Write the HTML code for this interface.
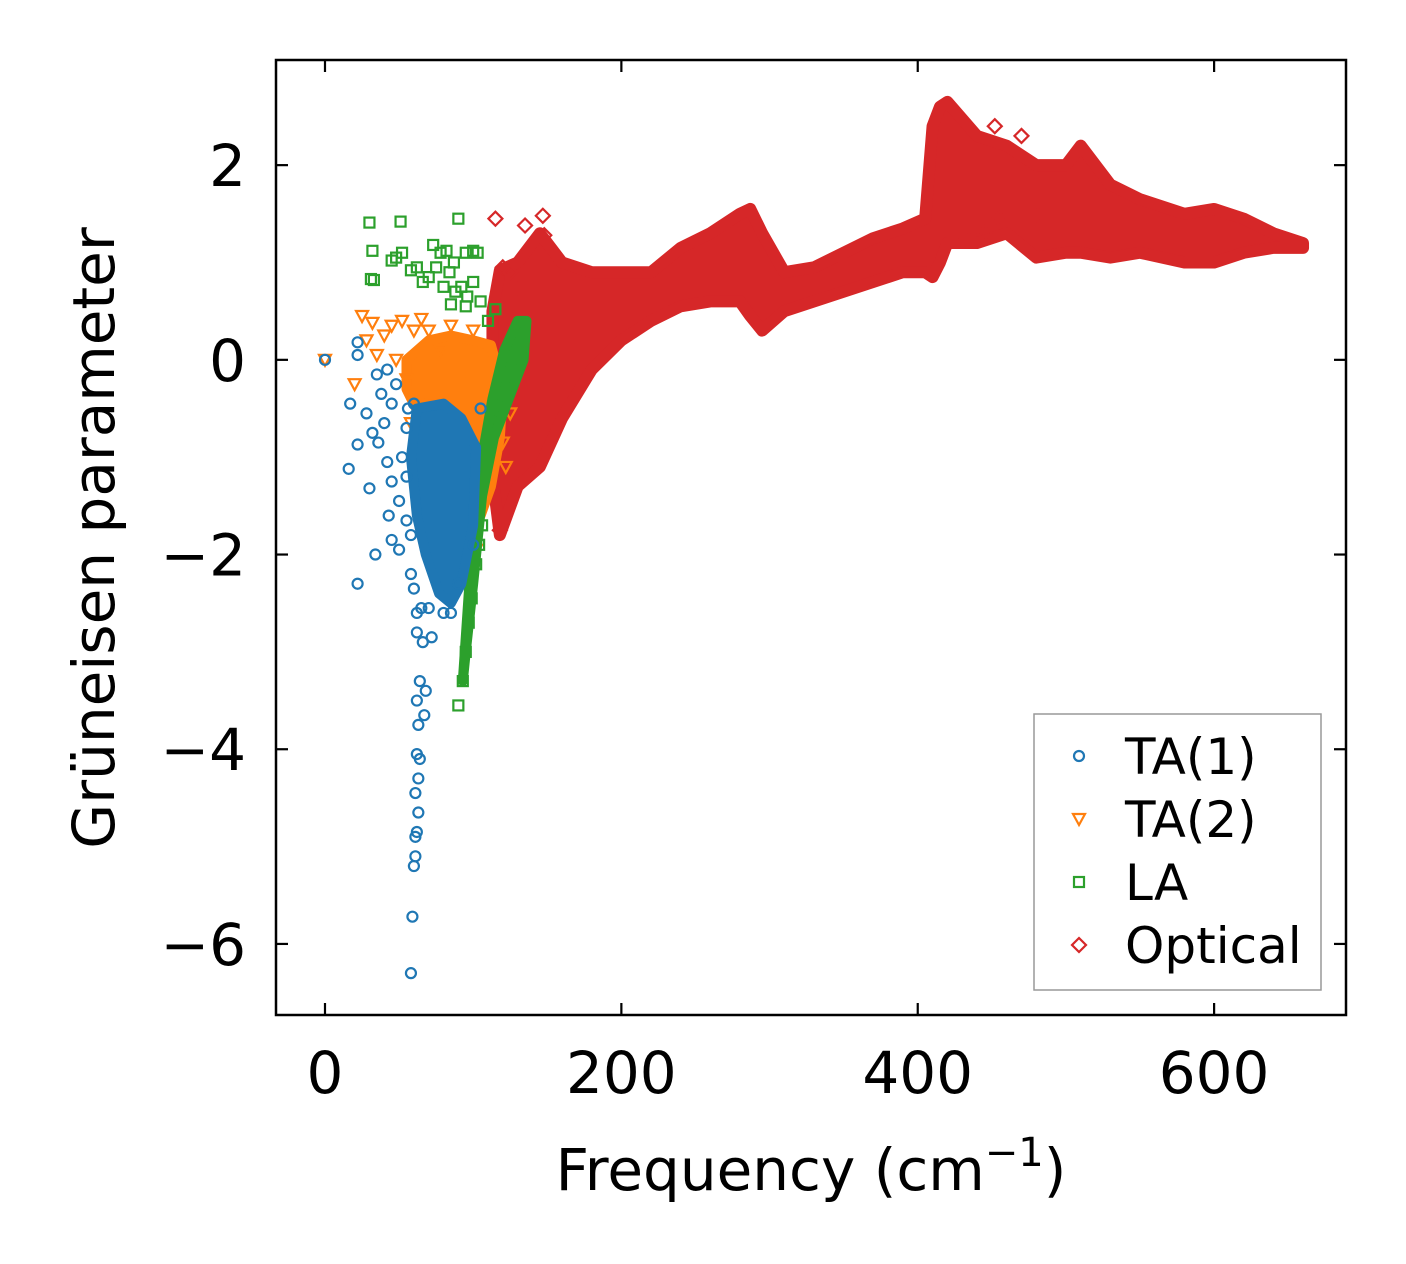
<!DOCTYPE html>
<html><head><meta charset="utf-8"><style>
html,body{margin:0;padding:0;background:#fff;}
svg{display:block;font-family:"DejaVu Sans","Liberation Sans",sans-serif;}
</style></head><body>
<svg id="chart" width="1406" height="1264" viewBox="0 0 1406 1264"></svg>
<script>
// ---- data ----
const xTicks=[0,200,400,600];
const yTicks=[2,0,-2,-4,-6];
const yTickLabels=["2","0","\u22122","\u22124","\u22126"];
const seriesNames=["TA(1)","TA(2)","LA","Optical"];
const seriesColors=["#1f77b4","#ff7f0e","#2ca02c","#d62728"];
// optical band: frequency, upper gamma, lower gamma
const optFreq=[113,118,130,145,160,180,200,220,240,260,280,287,295,310,330,350,370,390,405,410,415,420,440,460,480,500,510,530,550,580,600,620,640,660];
const optUpper=[0.5,0.92,1.0,1.3,1.0,0.9,0.9,0.9,1.15,1.3,1.5,1.55,1.3,0.9,0.95,1.1,1.25,1.35,1.45,2.4,2.6,2.65,2.3,2.2,2.0,2.0,2.2,1.8,1.65,1.5,1.55,1.45,1.3,1.2];
const optLower=[-1.2,-1.8,-1.3,-1.1,-0.6,-0.1,0.2,0.4,0.55,0.6,0.6,0.45,0.3,0.5,0.6,0.7,0.8,0.9,0.9,0.85,1.0,1.2,1.2,1.3,1.05,1.1,1.1,1.05,1.1,1.0,1.0,1.1,1.15,1.15];
const optScatter=[[115,1.45],[135,1.38],[147,1.48],[148,1.28],[452,2.4],[470,2.3],[445,1.3],[455,1.45],[120,0.95],[125,0.9],[130,0.75],[118,-1.75],[480,1.5],[430,1.3]];
// LA column polygon + scatter
const laPolyF=[93,97,101,106,113,121,130,136,134,124,114,106,100,95];
const laPolyG=[-3.3,-2.4,-1.6,-1.0,-0.4,0.1,0.4,0.4,0.0,-0.4,-0.8,-1.4,-2.3,-3.0];
const laScatter=[[30,1.41],[51,1.42],[90,1.45],[32,1.12],[48,1.05],[52,1.1],[58,0.92],[62,0.95],[66,0.8],[70,0.85],[73,1.18],[78,1.1],[82,1.12],[87,1.0],[95,1.1],[100,1.12],[103,1.1],[31,0.83],[33,0.82],[45,1.02],[75,0.95],[80,0.75],[84,0.9],[88,0.7],[92,0.75],[96,0.65],[100,0.8],[105,0.6],[85,0.57],[95,0.55],[110,0.4],[115,0.52],[90,-3.55],[93,-3.3],[95,-3.0],[97,-2.7],[99,-2.45],[102,-2.1],[104,-1.9],[106,-1.7]];
// TA(2) polygon + scatter
const ta2PolyF=[55,70,85,100,112,120,118,112,105,95,82,68,55];
const ta2PolyG=[0.0,0.2,0.25,0.2,0.15,-0.3,-0.8,-1.3,-1.6,-1.3,-1.0,-0.7,-0.3];
const ta2Scatter=[[0,0],[20,-0.25],[25,0.45],[32,0.38],[35,0.05],[28,0.2],[40,0.25],[45,0.35],[48,0.0],[52,0.4],[55,-0.2],[60,0.3],[65,0.42],[70,0.3],[72,-0.45],[78,0.1],[85,0.35],[90,-0.6],[95,-0.1],[100,0.3],[105,-0.9],[110,-1.1],[115,-0.7],[122,-1.1],[125,-0.55],[120,-0.85],[98,-1.5],[102,-1.95],[108,-1.4],[58,-0.65]];
// TA(1) polygon + scatter
const ta1PolyF=[62,80,92,102,100,92,85,77,68,62,58];
const ta1PolyG=[-0.5,-0.45,-0.6,-0.9,-1.7,-2.3,-2.5,-2.4,-2.0,-1.6,-1.0];
const ta1Scatter=[[0,0],[22,0.18],[22,0.05],[35,-0.15],[17,-0.45],[38,-0.35],[42,-0.1],[28,-0.55],[32,-0.75],[36,-0.85],[22,-0.87],[40,-0.65],[45,-0.45],[48,-0.25],[16,-1.12],[30,-1.32],[34,-2.0],[22,-2.3],[42,-1.05],[45,-1.25],[50,-1.45],[43,-1.6],[45,-1.85],[50,-1.95],[55,-1.65],[58,-2.2],[60,-2.35],[62,-2.6],[65,-2.55],[70,-2.55],[66,-2.9],[72,-2.85],[62,-2.8],[64,-3.3],[68,-3.4],[62,-3.5],[67,-3.65],[63,-3.75],[62,-4.05],[64,-4.1],[63,-4.3],[61,-4.45],[63,-4.65],[62,-4.85],[61,-5.1],[60,-5.2],[59,-5.72],[58,-6.3],[61,-4.9],[55,-0.7],[52,-1.0],[80,-2.6],[85,-2.6],[90,-2.3],[105,-0.5],[100,-1.9],[55,-1.2],[56,-0.5],[60,-0.45],[58,-1.8]];

// ---- axes ----
const X0=276,X1=1346,Y0=60,Y1=1015;
const xmin=-33.06,xmax=689.0,ymin=-6.73,ymax=3.08;
const sx=v=>X0+(v-xmin)/(xmax-xmin)*(X1-X0);
const sy=v=>Y1-(v-ymin)/(ymax-ymin)*(Y1-Y0);
const svg=document.getElementById('chart');
const NS='http://www.w3.org/2000/svg';
function mk(tag,attrs,parent){const e=document.createElementNS(NS,tag);for(const k in attrs)e.setAttribute(k,attrs[k]);(parent||svg).appendChild(e);return e;}
const clip=mk('clipPath',{id:'pc'});mk('rect',{x:X0,y:Y0,width:X1-X0,height:Y1-Y0},clip);
const plot=mk('g',{'clip-path':'url(#pc)'});



function marker(type,x,y,color,parent){
  const r=5;let e;
  if(type==='o'){e=mk('circle',{cx:x,cy:y,r:r,fill:'none',stroke:color,'stroke-width':2.2},parent);}
  else if(type==='v'){e=mk('path',{d:`M${x-6},${y-5}L${x+6},${y-5}L${x},${y+6}Z`,fill:'none',stroke:color,'stroke-width':2.2},parent);}
  else if(type==='s'){e=mk('rect',{x:x-5,y:y-5,width:10,height:10,fill:'none',stroke:color,'stroke-width':2.2},parent);}
  else {e=mk('path',{d:`M${x},${y-7}L${x+7},${y}L${x},${y+7}L${x-7},${y}Z`,fill:'none',stroke:color,'stroke-width':2.2},parent);}
  return e;
}
function poly(fs,gs,color,name){
  const pts=fs.map((f,i)=>sx(f)+','+sy(gs[i])).join(' ');
  const p=mk('polygon',{points:pts,fill:color,stroke:color,'stroke-width':10,'stroke-linejoin':'round'},plot);
  
  
}
// optical band
{
  const up=optFreq.map((f,i)=>sx(f)+','+sy(optUpper[i]));
  const lo=optFreq.map((f,i)=>sx(f)+','+sy(optLower[i])).reverse();
  const p=mk('polygon',{points:up.concat(lo).join(' '),fill:seriesColors[3],stroke:seriesColors[3],'stroke-width':12,'stroke-linejoin':'round'},plot);
  
  
}
optScatter.forEach(d=>{const m=marker('d',sx(d[0]),sy(d[1]),seriesColors[3],plot);

});
poly(ta2PolyF,ta2PolyG,seriesColors[1],'ta2-dense-region');
ta2Scatter.forEach(d=>{const m=marker('v',sx(d[0]),sy(d[1]),seriesColors[1],plot);

});
poly(laPolyF,laPolyG,seriesColors[2],'la-dense-region');
laScatter.forEach(d=>{const m=marker('s',sx(d[0]),sy(d[1]),seriesColors[2],plot);

});
poly(ta1PolyF,ta1PolyG,seriesColors[0],'ta1-dense-region');
ta1Scatter.forEach(d=>{const m=marker('o',sx(d[0]),sy(d[1]),seriesColors[0],plot);

});

// frame
const fr=mk('rect',{x:X0,y:Y0,width:X1-X0,height:Y1-Y0,fill:'none',stroke:'#000','stroke-width':2.5});


xTicks.forEach(v=>{const x=sx(v);
  mk('line',{x1:x,x2:x,y1:Y1,y2:Y1-12,stroke:'#000','stroke-width':2.2});
  mk('line',{x1:x,x2:x,y1:Y0,y2:Y0+12,stroke:'#000','stroke-width':2.2});
  const t=mk('text',{x:x,y:1093,'font-size':58,'text-anchor':'middle'});t.textContent=String(v);
  
  
});
yTicks.forEach((v,i)=>{const y=sy(v);
  mk('line',{x1:X0,x2:X0+12,y1:y,y2:y,stroke:'#000','stroke-width':2.2});
  mk('line',{x1:X1,x2:X1-12,y1:y,y2:y,stroke:'#000','stroke-width':2.2});
  const t=mk('text',{x:246,y:y+21,'font-size':58,'text-anchor':'end'});t.textContent=yTickLabels[i];
  
  
});
const xt=mk('text',{x:811,y:1190,'font-size':58,'text-anchor':'middle'});
xt.innerHTML='Frequency (cm<tspan dy="-24" font-size="40">\u22121</tspan><tspan dy="24">)</tspan>';


const yt=mk('text',{x:0,y:0,'font-size':58,'text-anchor':'middle',transform:'translate(114,538) rotate(-90)'});
yt.textContent='Grüneisen parameter';



// legend
const lg=mk('g',{});


mk('rect',{x:1034,y:714,width:287,height:276,fill:'#fff',stroke:'#999','stroke-width':1.5},lg);
const types=['o','v','s','d'];
seriesNames.forEach((n,i)=>{const y=756+i*63;
  const m=marker(types[i],1079,y,seriesColors[i],lg);
  
  
  const t=mk('text',{x:1125,y:y+18,'font-size':50},lg);t.textContent=n;
  
  
});
</script>
</body></html>
